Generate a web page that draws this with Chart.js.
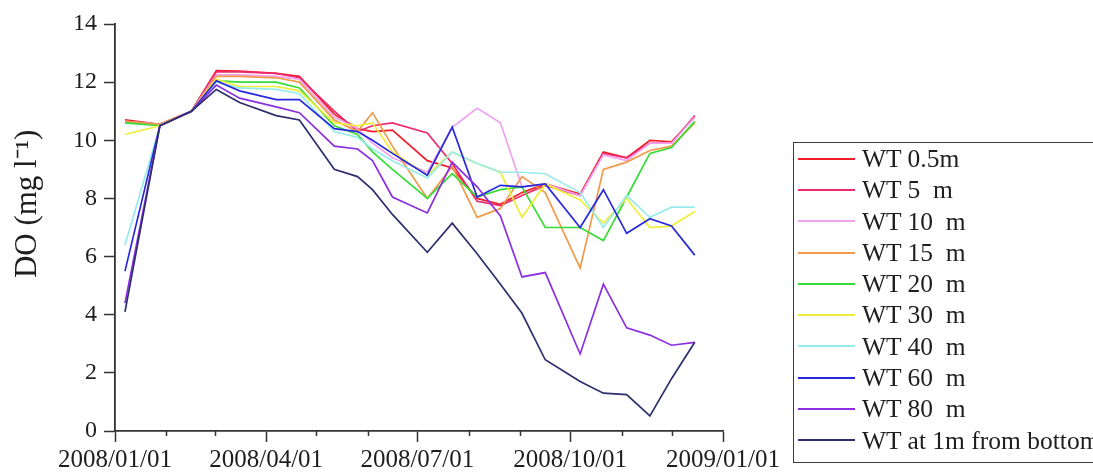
<!DOCTYPE html>
<html>
<head>
<meta charset="utf-8">
<title>Dissolved oxygen by depth, 2008</title>
<script src="https://cdn.jsdelivr.net/npm/chart.js@4.4.1/dist/chart.umd.min.js"></script>
<style>
  html, body { margin: 0; padding: 0; background: #fff; overflow: hidden; }
  #wrap { position: relative; width: 1093px; height: 472px; overflow: hidden; }
  #do-chart { position: absolute; left: 0; top: 0; }
  #legend {
    position: absolute; left: 793px; top: 142px;
    width: 340px; height: 321px;
    border: 1.5px solid #3a3a3a;
    font-family: "Liberation Serif", "Times New Roman", serif;
    font-size: 25.5px; color: #1e1e1e;
    box-sizing: border-box;
  }
  #legend .row { height: 31.3px; line-height: 31.3px; white-space: pre; display: flex; align-items: center; }
  #legend .sw { display: inline-block; flex: none; width: 57px; height: 2px; margin-left: 4px; margin-right: 7px; }
</style>
</head>
<body>
<div id="wrap">
  <canvas id="do-chart" width="1093" height="472"></canvas>
  <div id="legend"></div>
</div>
<script>
// Sampling dates (all depths were sampled on the same days)
const sampleDates = [
  '2008-01-07', '2008-01-28', '2008-02-16', '2008-03-02', '2008-03-16', '2008-04-07',
  '2008-04-21', '2008-05-12', '2008-05-26', '2008-06-04', '2008-06-16', '2008-07-07',
  '2008-07-22', '2008-08-06', '2008-08-20', '2008-09-02', '2008-09-16', '2008-10-07',
  '2008-10-21', '2008-11-04', '2008-11-18', '2008-12-01', '2008-12-15'
];

// Dissolved oxygen, mg/l, one array per depth
const wt0_5m = [10.7, 10.55, 11.0, 12.4, 12.38, 12.3, 12.2, 10.9, 10.4, 10.3, 10.35, 9.3, 9.05, 8.0, 7.8, 8.2, 8.5, 8.15, 9.6, 9.4, 10.0, 9.95, 10.8];
const wt5m   = [10.65, 10.55, 11.0, 12.35, 12.35, 12.3, 12.15, 11.0, 10.3, 10.5, 10.6, 10.25, 9.2, 7.9, 7.75, 8.1, 8.45, 8.1, 9.55, 9.4, 9.9, 9.9, 10.85];
const wt10m  = [10.65, 10.55, 11.0, 12.25, 12.25, 12.2, 12.1, 10.8, 10.4, 9.9, 9.4, 8.9, 10.45, 11.1, 10.6, 8.4, 8.5, 8.1, 9.5, 9.3, 9.9, 9.9, 10.8];
const wt15m  = [10.65, 10.55, 11.0, 12.2, 12.2, 12.15, 12.0, 10.7, 10.3, 10.95, 9.8, 8.0, 9.1, 7.35, 7.65, 8.75, 8.2, 5.6, 9.0, 9.25, 9.65, 9.8, 10.6];
const wt20m  = [10.6, 10.5, 11.0, 12.05, 12.0, 12.0, 11.8, 10.5, 10.2, 9.6, 9.0, 8.0, 8.85, 8.05, 8.3, 8.4, 7.0, 7.0, 6.55, 8.05, 9.55, 9.75, 10.65];
const wt30m  = [10.2, 10.5, 11.0, 12.1, 11.85, 11.85, 11.7, 10.6, 10.5, 10.6, 9.6, 8.8, 9.6, 9.2, 8.9, 7.35, 8.5, 7.95, 7.15, 8.0, 7.0, 7.05, 7.55];
const wt40m  = [6.4, 10.5, 11.0, 12.0, 11.8, 11.75, 11.6, 10.3, 10.1, 9.7, 9.3, 8.7, 9.6, 9.2, 8.9, 8.9, 8.85, 8.2, 7.0, 8.1, 7.35, 7.7, 7.7];
const wt60m  = [5.5, 10.5, 11.0, 12.05, 11.7, 11.4, 11.4, 10.4, 10.3, 10.0, 9.55, 8.8, 10.45, 8.05, 8.45, 8.4, 8.5, 7.0, 8.3, 6.8, 7.3, 7.05, 6.05];
const wt80m  = [4.4, 10.5, 11.0, 11.9, 11.45, 11.15, 10.95, 9.8, 9.7, 9.3, 8.05, 7.5, 9.25, 8.4, 7.4, 5.3, 5.45, 2.65, 5.05, 3.55, 3.3, 2.95, 3.05];
const wtBottom = [4.1, 10.5, 11.0, 11.75, 11.3, 10.85, 10.7, 9.0, 8.75, 8.3, 7.45, 6.15, 7.15, 6.1, 5.05, 4.05, 2.45, 1.7, 1.3, 1.25, 0.52, 1.8, 3.05];

const seriesNames  = ['WT 0.5m', 'WT 5  m', 'WT 10  m', 'WT 15  m', 'WT 20  m', 'WT 30  m', 'WT 40  m', 'WT 60  m', 'WT 80  m', 'WT at 1m from bottom'];
const seriesValues = [wt0_5m, wt5m, wt10m, wt15m, wt20m, wt30m, wt40m, wt60m, wt80m, wtBottom];
const seriesColors = ['#f01e2a', '#ee2a6c', '#f0a2f0', '#f09a4a', '#36dc36', '#eeee3a', '#96ecec', '#2828de', '#8c2fe2', '#2e2e6e'];

// Axis ticks and title
const xTickLabels  = ['2008/01/01', '2008/04/01', '2008/07/01', '2008/10/01', '2009/01/01'];
const xMinorDates  = ['2008/02/01', '2008/03/01', '2008/05/01', '2008/06/01', '2008/08/01', '2008/09/01', '2008/11/01', '2008/12/01'];
const yTickValues  = [0, 2, 4, 6, 8, 10, 12, 14];
const yTitle = 'DO (mg l\u207B\u00B9)';

// Days since the start of 2008
const ORIGIN = Date.UTC(2008, 0, 1);
function dayOf(s) {
  const p = s.split(/[-\/]/).map(Number);
  return (Date.UTC(p[0], p[1] - 1, p[2]) - ORIGIN) / 86400000;
}
const sampleDays = sampleDates.map(dayOf);
const xTickDays = xTickLabels.map(dayOf);
const xMinorDays = xMinorDates.map(dayOf);

const datasets = seriesNames.map((name, k) => ({
  label: name,
  data: sampleDays.map((d, i) => ({ x: d, y: seriesValues[k][i] })),
  borderColor: seriesColors[k],
  backgroundColor: seriesColors[k],
  borderWidth: 1.7,
  pointRadius: 0,
  tension: 0,
  fill: false,
  order: seriesNames.length - k
}));

const AXIS = '#333333';
const serif = '"Liberation Serif", "Times New Roman", serif';

// Short month ticks on the date axis
const minorTicks = {
  id: 'minorTicks',
  afterDraw(chart) {
    const xs = chart.scales.x, ctx = chart.ctx;
    ctx.save();
    ctx.strokeStyle = AXIS;
    ctx.lineWidth = 1.5;
    xMinorDays.forEach(d => {
      const px = Math.round(xs.getPixelForValue(d)) + 0.5;
      ctx.beginPath();
      ctx.moveTo(px, xs.top);
      ctx.lineTo(px, xs.top + 5);
      ctx.stroke();
    });
    ctx.restore();
  }
};

// Vertical axis title, set a little above the middle of the axis
const yAxisTitle = {
  id: 'yAxisTitle',
  afterDraw(chart) {
    const ys = chart.scales.y, ctx = chart.ctx;
    const cy = ys.top + (ys.bottom - ys.top) * 0.442;
    ctx.save();
    ctx.translate(ys.left + 28, cy);
    ctx.rotate(-Math.PI / 2);
    ctx.fillStyle = '#1e1e1e';
    ctx.font = '31px ' + serif;
    ctx.textAlign = 'center';
    ctx.textBaseline = 'middle';
    ctx.fillText(yTitle, 0, 0);
    ctx.restore();
  }
};

const chart = new Chart(document.getElementById('do-chart'), {
  type: 'line',
  data: { datasets },
  plugins: [minorTicks, yAxisTitle],
  options: {
    responsive: false,
    animation: false,
    layout: { padding: { left: 0, top: 24, right: 370, bottom: 0 } },
    plugins: { legend: { display: false }, tooltip: { enabled: false } },
    scales: {
      x: {
        type: 'linear',
        min: xTickDays[0],
        max: xTickDays[xTickDays.length - 1],
        afterBuildTicks: s => { s.ticks = xTickDays.map(v => ({ value: v })); },
        afterFit: s => { s.height = 41; s.paddingLeft = 0; s.paddingRight = 0; },
        ticks: {
          autoSkip: false, maxRotation: 0, padding: 3,
          color: '#1e1e1e',
          font: { family: serif, size: 25 },
          callback: v => xTickLabels[xTickDays.indexOf(v)]
        },
        grid: { drawOnChartArea: false, tickLength: 11, tickColor: AXIS, tickWidth: 1.5 },
        border: { color: AXIS, width: 1.8 }
      },
      y: {
        min: 0, max: 14,
        afterBuildTicks: s => { s.ticks = yTickValues.map(v => ({ value: v })); },
        afterFit: s => { s.width = 115; s.paddingTop = 0; s.paddingBottom = 0; },
        ticks: {
          padding: 7,
          color: '#1e1e1e',
          font: { family: serif, size: 24 }
        },
        grid: { drawOnChartArea: false, tickLength: 11, tickColor: AXIS, tickWidth: 1.5 },
        border: { color: AXIS, width: 1.8 }
      }
    }
  }
});

// Boxed legend built from the chart's datasets
const legendEl = document.getElementById('legend');
chart.data.datasets.forEach(ds => {
  const row = document.createElement('div');
  row.className = 'row';
  const sw = document.createElement('span');
  sw.className = 'sw';
  sw.style.background = ds.borderColor;
  const tx = document.createElement('span');
  tx.textContent = ds.label;
  row.appendChild(sw);
  row.appendChild(tx);
  legendEl.appendChild(row);
});
</script>
</body>
</html>
